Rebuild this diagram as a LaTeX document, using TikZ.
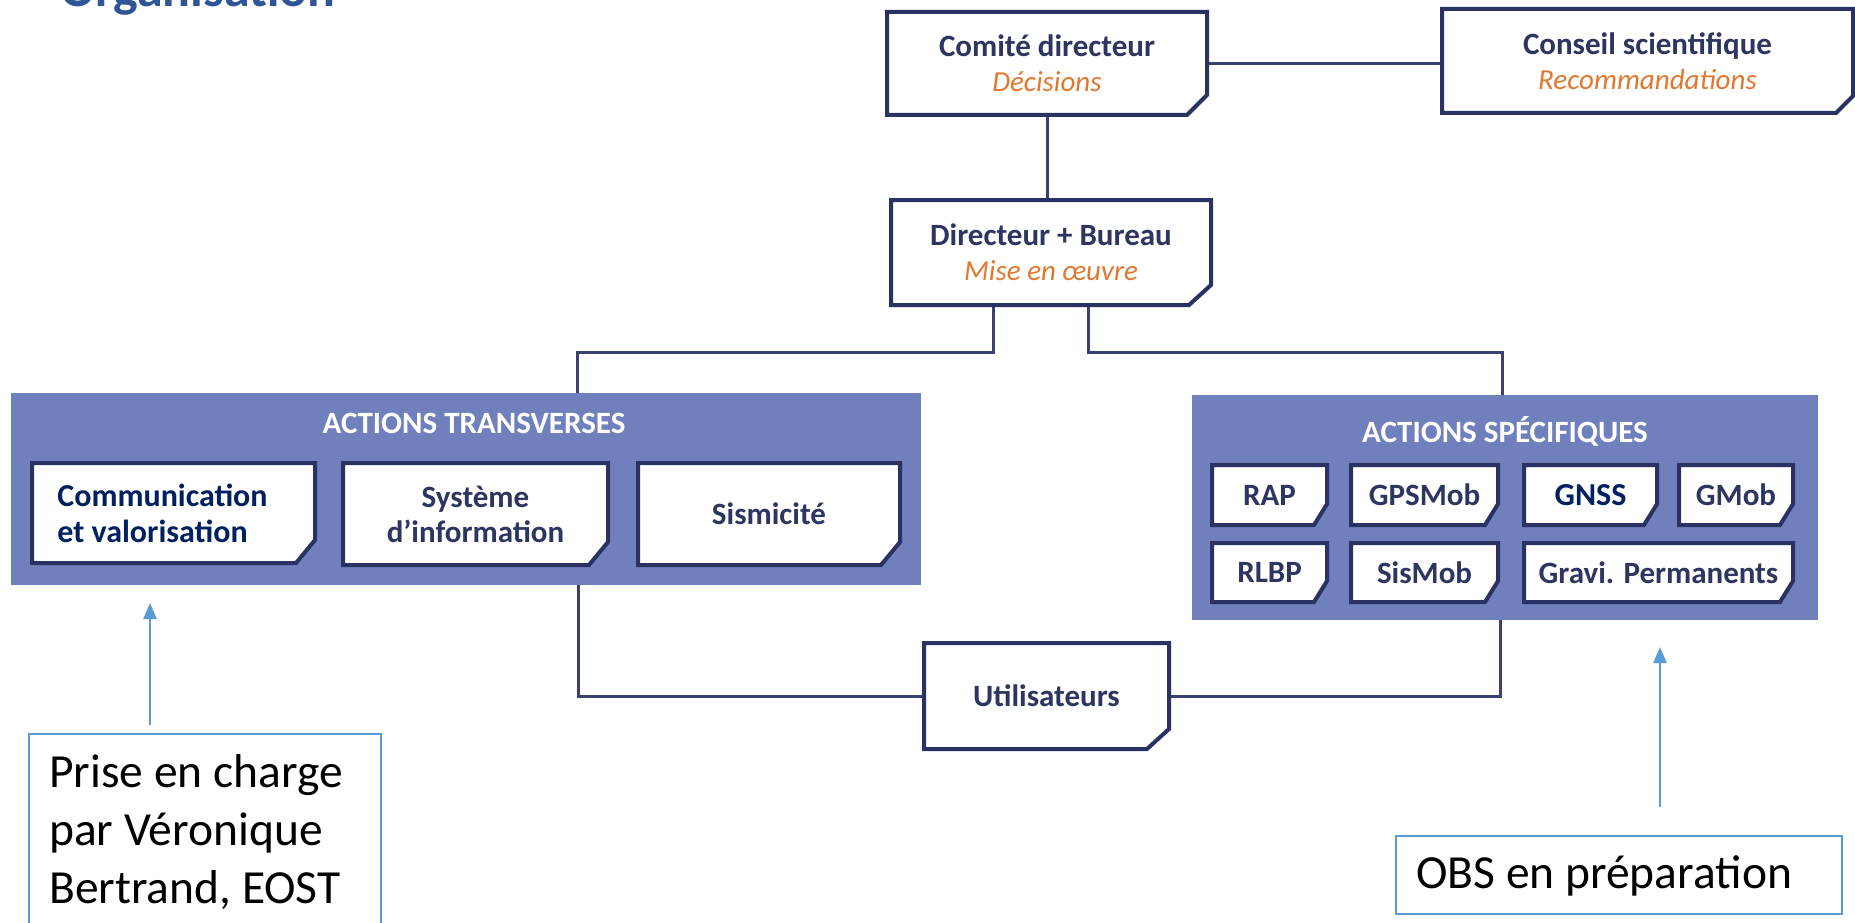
\documentclass[tikz,border=0pt]{standalone}
\usepackage{fontspec}
\setmainfont{Carlito}
\usetikzlibrary{arrows.meta}
\definecolor{navy}{HTML}{2A3163}
\definecolor{boxtxt}{HTML}{2E3560}
\definecolor{conncol}{HTML}{3A4170}
\definecolor{panelcol}{RGB}{112,128,188}
\definecolor{orgorange}{HTML}{E2772E}
\definecolor{deepnavy}{HTML}{002060}
\definecolor{annblue}{HTML}{5B9BD5}
\definecolor{titleblue}{HTML}{2F5597}
\pgfdeclarelayer{panelL}
\pgfdeclarelayer{connL}
\pgfsetlayers{panelL,connL,main}
\tikzset{
  boxline/.style={draw=navy, line width=4pt, fill=white, line join=miter},
  boxtext/.style={inner sep=0pt, align=center, text=boxtxt, font=\bfseries\fontsize{31}{35}\selectfont},
  conn/.style={draw=conncol, line width=3pt},
  panel/.style={fill=panelcol, inner sep=0pt},
  paneltitle/.style={text=white, font=\bfseries\fontsize{31}{36}\selectfont, anchor=base, inner sep=0pt},
  strong/.style={text=deepnavy, font=\bfseries\fontsize{32}{36}\selectfont},
  annbox/.style={draw=annblue, line width=2pt, fill=white, inner sep=0pt},
  anntext/.style={font=\fontsize{47.5}{57}\selectfont, text=black, anchor=base west, inner sep=0pt},
  annarrow/.style={draw=annblue, line width=2.5pt, -{Triangle[length=16pt,width=13pt]}},
}
\newcommand{\subt}[1]{{\mdseries\itshape\fontsize{29}{35}\selectfont\color{orgorange}#1}}
\newcommand{\chx}{20}
\newcommand{\chy}{20}
% name, x1, y1, x2, y2, node style, text
\newcommand{\cbox}[7]{%
  \filldraw[boxline] (#2,#3) -- (#4,#3) -- (#4,#5-\chy) -- (#4-\chx,#5) -- (#2,#5) -- cycle;
  \node[boxtext, minimum width={(#4-#2)*1pt}, minimum height={(#5-#3)*1pt}, #6] (#1) at ({(#2+#4)/2},{(#3+#5)/2}) {#7};
}
\begin{document}
\begin{tikzpicture}[x=1pt,y=-1pt]
\useasboundingbox (0,0) rectangle (1855,923);
\begin{pgfonlayer}{panelL}
  \fill[white] (0,0) rectangle (1855,923);
  \node[panel, minimum width=910pt, minimum height=192pt] (transv) at (466,489) {};
  \node[panel, minimum width=626pt, minimum height=225pt] (specif) at (1505,507.5) {};
\end{pgfonlayer}

% title
\node[anchor=base west, inner sep=0pt, text=titleblue, font=\bfseries\fontsize{52}{60}\selectfont] (title) at (60,7) {Organisation};

% panel titles
\node[paneltitle] (transvT) at (474,433) {ACTIONS TRANSVERSES};
\node[paneltitle] (specifT) at (1505,442) {ACTIONS SPÉCIFIQUES};

% main boxes
\cbox{com}{887}{12}{1207}{115}{}{Comité directeur\\\subt{Décisions}}
\renewcommand{\chx}{17}\renewcommand{\chy}{17}
\cbox{cons}{1442}{9}{1853}{113}{}{Conseil scientifique\\\subt{Recommandations}}
\renewcommand{\chx}{22}\renewcommand{\chy}{20}
\cbox{dir}{891}{200}{1211}{305}{}{Directeur + Bureau\\\subt{Mise en œuvre}}
\cbox{users}{924}{643}{1169}{749}{}{Utilisateurs}
\renewcommand{\chx}{19}\renewcommand{\chy}{23}
\cbox{comm}{32}{463}{315}{563}{strong, align=left, xshift=-11pt}{Communication\\et valorisation}
\cbox{sys}{343}{463}{608}{565}{}{Système\\d’information}
\cbox{sism}{638}{463}{900}{565}{}{Sismicité}
\renewcommand{\chx}{13}\renewcommand{\chy}{21}
\cbox{rap}{1212}{465}{1327}{525}{}{RAP}
\cbox{gps}{1351}{465}{1498}{525}{}{GPSMob}
\cbox{gnss}{1524}{465}{1657}{525}{strong}{GNSS}
\cbox{gmob}{1679}{465}{1793}{525}{}{GMob}
\cbox{rlbp}{1212}{543}{1327}{602}{}{RLBP}
\cbox{sismob}{1351}{543}{1498}{602}{}{SisMob}
\cbox{gravi}{1524}{543}{1793}{602}{}{Gravi. Permanents}

% connectors
\coordinate (jl) at (577,352);
\coordinate (jr) at (1502,352);
\coordinate (bl) at (578,0);
\coordinate (br) at (1500,0);
\begin{pgfonlayer}{connL}
  \draw[conn] (com.east) -- (com.east -| cons.west);
  \draw[conn] (com.south) -- (com.south |- dir.north);
  \draw[conn] ([xshift=-58pt]dir.south) |- (jl) -- (jl |- transv.north);
  \draw[conn] ([xshift=37pt]dir.south) |- (jr) -- (jr |- specif.north);
  \draw[conn] (bl |- transv.south) |- (users.west);
  \draw[conn] (users.east) -| (br |- specif.south);
\end{pgfonlayer}

% annotations
\node[annbox, minimum width=352pt, minimum height=220pt, anchor=north west] (prise) at (28,733) {};
\node[anntext] (prise1) at (49,787) {Prise en charge};
\node[anntext] (prise2) at (49,845) {par Véronique};
\node[anntext] (prise3) at (49,903) {Bertrand, EOST};
\node[annbox, minimum width=446pt, minimum height=78pt, anchor=north west] (obs) at (1395,835) {};
\node[anntext] (obsT) at (1416,888) {OBS en préparation};

\coordinate (pa) at (150,725);
\coordinate (pt) at (150,603);
\draw[annarrow] (pa) -- (pt);
\coordinate (oa) at (1660,807);
\coordinate (ot) at (1660,647);
\draw[annarrow] (oa) -- (ot);
\end{tikzpicture}
\end{document}
